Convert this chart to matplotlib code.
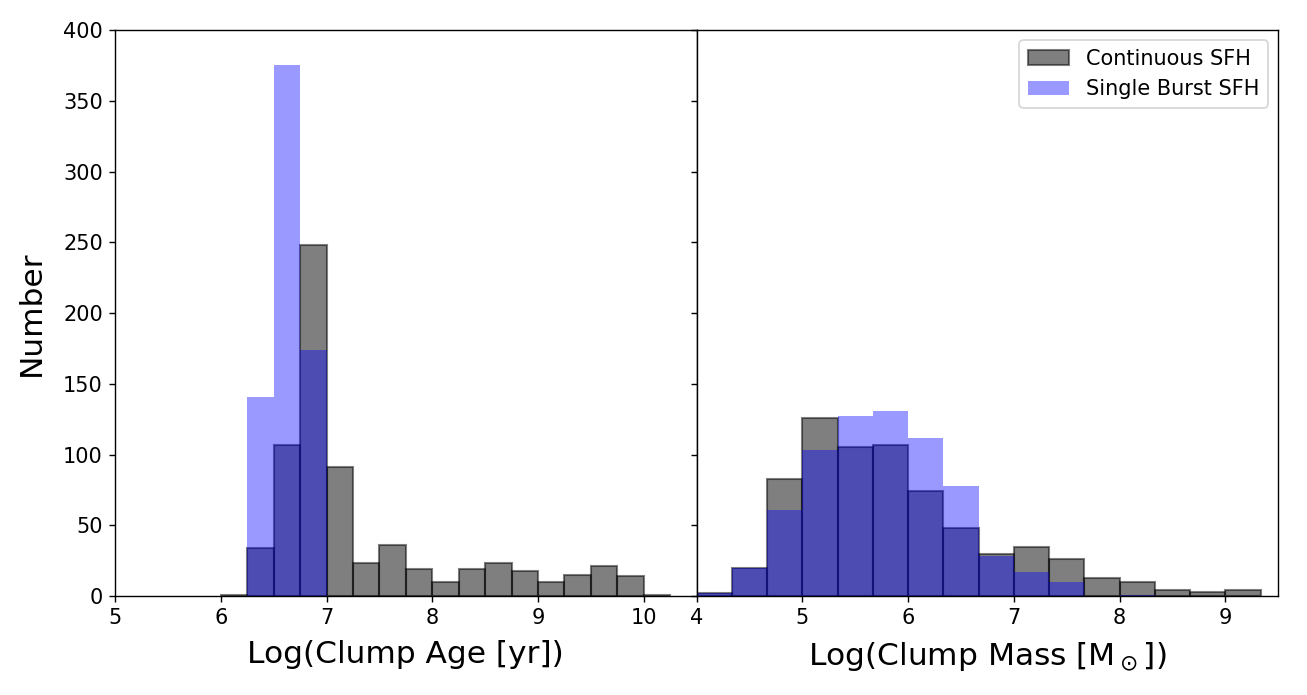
import numpy as np
import matplotlib
matplotlib.use("Agg")
import matplotlib.pyplot as plt

# ---- Data ----
age_bin_start = 6.0
age_bin_width = 0.25
age_continuous = [1, 34, 107, 248, 91, 23, 36, 19, 10, 19, 23, 18, 10, 15, 21, 14, 1]
age_burst      = [0, 141, 375, 174, 0, 0, 0, 0, 0, 0, 0, 0, 0, 0, 0, 0, 0]

mass_bin_start = 4.0
mass_bin_width = 1.0 / 3.0
mass_continuous = [2, 20, 83, 126, 105, 107, 74, 48, 30, 35, 26, 13, 10, 4, 3, 4]
mass_burst      = [2, 20, 61, 103, 127, 131, 112, 78, 28, 17, 10, 0, 1, 0, 0, 0]

labels = ["Continuous SFH", "Single Burst SFH"]

fig = plt.figure(figsize=(1307 / 125, 695 / 125), dpi=125)
ax1 = fig.add_axes([0.088, 0.1424, 0.445, 0.8144])
ax2 = fig.add_axes([0.533, 0.1424, 0.445, 0.8144], sharey=ax1)


def draw(ax, start, width, cont, burst):
    n = len(cont)
    edges = start + width * np.arange(n + 1)
    centers = 0.5 * (edges[:-1] + edges[1:])
    ax.hist(centers, bins=edges, weights=cont, color="k", alpha=0.5,
            edgecolor="k", linewidth=1.2, label=labels[0])
    ax.hist(centers, bins=edges, weights=burst, color="blue", alpha=0.4,
            linewidth=0, label=labels[1])


draw(ax1, age_bin_start, age_bin_width, age_continuous, age_burst)
draw(ax2, mass_bin_start, mass_bin_width, mass_continuous, mass_burst)

ax1.set_xlim(5, 10.5)
ax2.set_xlim(4, 9.5)
ax1.set_ylim(0, 400)
ax1.set_xticks([5, 6, 7, 8, 9, 10])
ax2.set_xticks([4, 5, 6, 7, 8, 9])
ax1.set_yticks(np.arange(0, 401, 50))
plt.setp(ax2.get_yticklabels(), visible=False)

for ax in (ax1, ax2):
    ax.tick_params(labelsize=12)

ax1.set_ylabel("Number", fontsize=18, labelpad=10)
ax1.set_xlabel("Log(Clump Age [yr])", fontsize=18, labelpad=7)
ax2.set_xlabel(r"Log(Clump Mass [M$_\odot$])", fontsize=18, labelpad=7)

ax2.legend(loc="upper right", fontsize=12)

fig.savefig("out.png", dpi=125)
